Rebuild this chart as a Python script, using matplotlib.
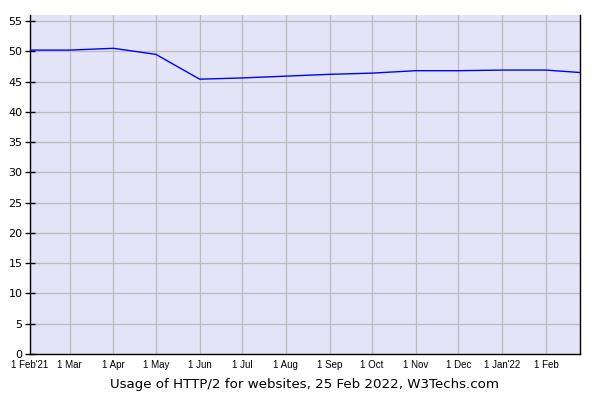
import matplotlib
matplotlib.use('Agg')
import matplotlib.pyplot as plt
import matplotlib.dates as mdates
import numpy as np
from datetime import date

dates = [date(2021, 2, 1), date(2021, 3, 1), date(2021, 4, 1), date(2021, 5, 1),
         date(2021, 6, 1), date(2021, 7, 1), date(2021, 8, 1), date(2021, 9, 1),
         date(2021, 10, 1), date(2021, 11, 1), date(2021, 12, 1), date(2022, 1, 1),
         date(2022, 2, 1), date(2022, 2, 25)]
usage = [50.2, 50.2, 50.5, 49.5, 45.4, 45.6, 45.9, 46.2, 46.4, 46.8, 46.8, 46.9, 46.9, 46.5]

tick_dates = dates[:-1]
tick_labels = ["1 Feb'21", "1 Mar", "1 Apr", "1 May", "1 Jun", "1 Jul", "1 Aug",
               "1 Sep", "1 Oct", "1 Nov", "1 Dec", "1 Jan'22", "1 Feb"]
y_ticks = list(range(0, 56, 5))

fig = plt.figure(figsize=(6, 4), dpi=100)
ax = fig.add_axes([30 / 600, 46 / 400, 550 / 600, 339 / 400])
ax.set_facecolor('#e4e4f8')

ax.plot(dates, usage, color='#0000ff', lw=1, zorder=3)

ax.set_xlim(dates[0], dates[-1])
ax.set_ylim(0, 56)
ax.set_xticks(tick_dates)
ax.set_xticklabels(tick_labels, fontsize=7, family='Liberation Sans')
ax.set_yticks(y_ticks)
ax.set_yticklabels([str(v) for v in y_ticks], fontsize=8)
ax.grid(True, color='#bbbbbb', lw=0.9)
ax.set_axisbelow(True)

ax.tick_params(axis='y', direction='inout', length=7, width=1, pad=2)
ax.tick_params(axis='x', length=0, pad=4)

ax.spines['top'].set_visible(False)
for s in ['left', 'bottom', 'right']:
    ax.spines[s].set_color('black')
    ax.spines[s].set_linewidth(1)

fig.text(0.508, 0.03, 'Usage of HTTP/2 for websites, 25 Feb 2022, W3Techs.com',
         ha='center', fontsize=9.6)

fig.savefig('out.png', dpi=100)
